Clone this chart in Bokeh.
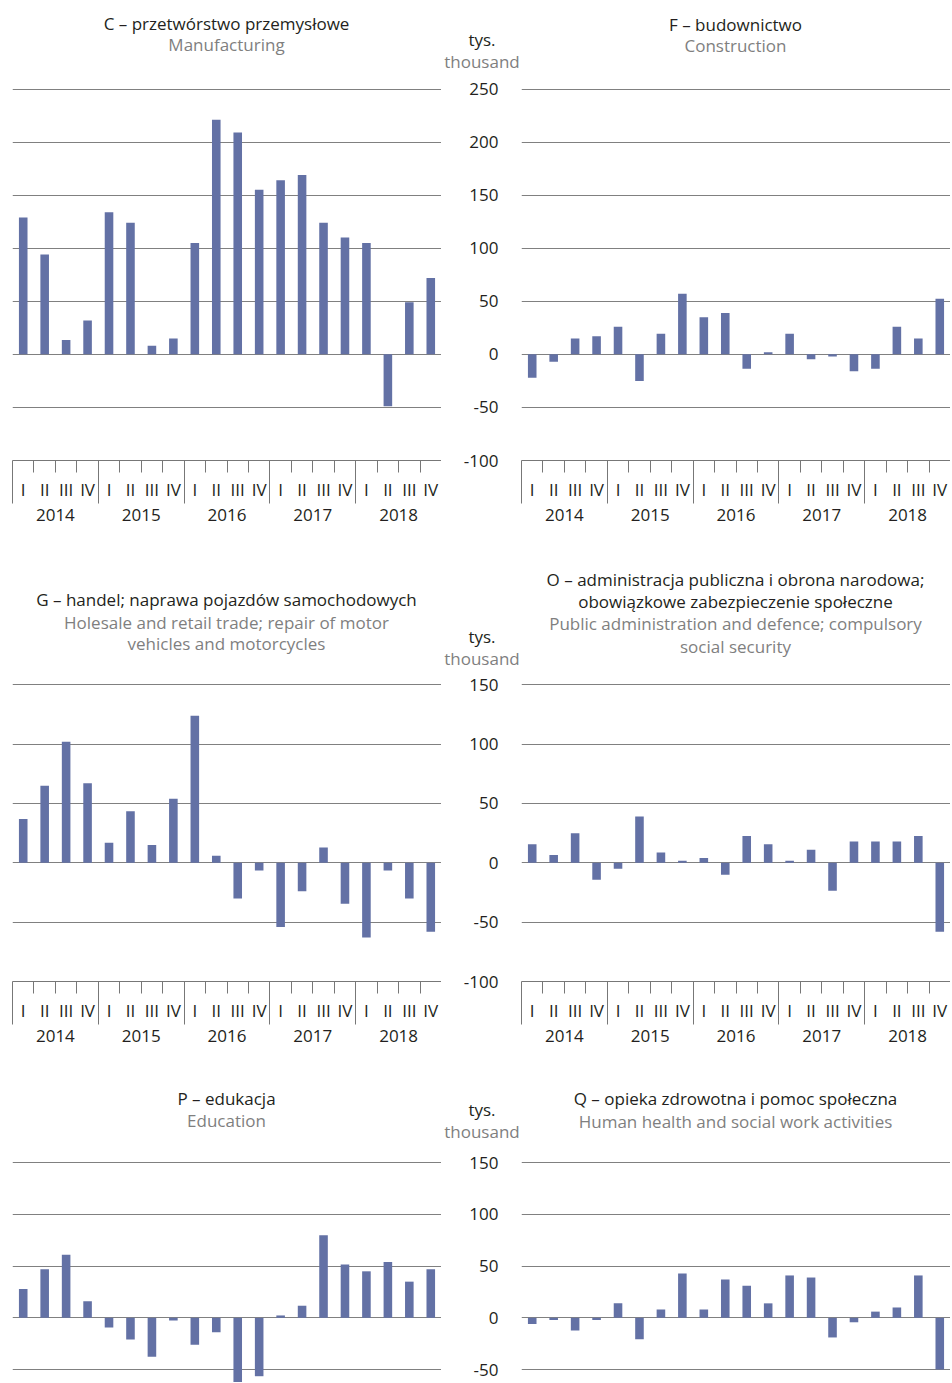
from bokeh.plotting import figure
from bokeh.models import Range1d, FixedTicker, LinearAxis, Grid, ColumnDataSource, Div
from bokeh.layouts import column, row
from bokeh.embed import file_html
from bokeh.resources import INLINE

# ---------------- data ----------------
years = ["2014", "2015", "2016", "2017", "2018"]
quarters = ["I", "II", "III", "IV"]

manufacturing = [129, 94, 13.5, 32, 134, 124, 8, 15, 105, 221,
                 209, 155, 164, 169, 124, 110, 105, -49, 49, 72]
construction = [-22, -7, 15, 17, 26, -25, 19.5, 57, 35, 39,
                -13.5, 2, 19.5, -4.5, -2, -16, -13.5, 26, 15, 52.5]
trade = [37, 65, 102, 67, 17, 43.5, 15, 54, 124, 6,
         -30, -6.5, -54, -24, 13, -34.5, -63, -6.5, -30, -58]
public_admin = [15.7, 6.5, 25, -14.3, -5, 39, 8.7, 1.7, 4, -10,
                22.5, 15.7, 1.7, 11, -23.6, 18, 18, 18, 22.5, -58]
education = [28, 47, 61, 16, -9.4, -21, -37.7, -2.6, -26, -14,
             -62, -56.5, 2.3, 11.7, 80, 51.6, 45, 54, 35, 47]
health = [-6, -2, -12.3, -2, 14, -20.7, 8, 43, 8, 37,
          31, 14, 41, 39, -19, -4.3, 6, 10, 41, -50]

ticks_row1 = [-100, -50, 0, 50, 100, 150, 200, 250]
ticks_row2 = [-100, -50, 0, 50, 100, 150]
ticks_row3 = [-50, 0, 50, 100, 150]

unit_pl = "tys."
unit_en = "thousand"

# ---------------- style ----------------
FONT = "Open Sans"
FS = "17px"
BAR = "#6371a5"
GRID = "#808080"
AXIS = "#777777"
DARK = "#231f20"
GREY = "#7f7f7f"

W_LEFT, W_RIGHT = 441, 509
n = len(years) * len(quarters)
xc = [i + 0.5 for i in range(n)]


def yrange(yticks, g_top, g_bot, frame_top, frame_bot):
    ppu = (g_bot - g_top) / (yticks[-1] - yticks[0])
    return (yticks[0] - (frame_bot - g_bot) / ppu,
            yticks[-1] + (g_top - frame_top) / ppu)


def panel(values, yticks, side, fig_h, b_top, b_bot, yr, x_axis=True):
    if side == "L":
        w, bl = W_LEFT, 12
    else:
        w, bl = W_RIGHT, 80
    p = figure(width=w, height=fig_h, x_range=Range1d(0, n),
               y_range=Range1d(*yr),
               output_backend="svg", toolbar_location=None,
               min_border_left=bl, min_border_right=0,
               min_border_top=b_top, min_border_bottom=b_bot,
               x_axis_location="below" if x_axis else None,
               y_axis_location="left" if side == "R" else None,
               outline_line_color=None, border_fill_color="white",
               background_fill_color="white")
    for g in p.grid:
        g.visible = False
    p.add_layout(Grid(dimension=1, ticker=FixedTicker(ticks=yticks),
                      grid_line_color=GRID, grid_line_width=1), "center")

    src = ColumnDataSource(dict(x=xc, top=values))
    p.vbar(x="x", top="top", bottom=0, width=0.4, source=src,
           fill_color=BAR, line_color=None)

    if side == "R":
        ay = p.yaxis[0]
        ay.ticker = FixedTicker(ticks=yticks)
        ay.major_label_overrides = {t: str(t) for t in yticks}
        ay.major_tick_out = 0
        ay.major_tick_in = 0
        ay.minor_tick_out = 0
        ay.minor_tick_in = 0
        ay.axis_line_color = None
        ay.major_label_standoff = 23
        ay.major_label_text_font = FONT
        ay.major_label_text_font_size = FS
        ay.major_label_text_color = DARK

    if x_axis:
        ax = p.xaxis[0]
        ax.ticker = FixedTicker(ticks=xc, minor_ticks=list(range(n + 1)))
        ax.major_label_overrides = {c: quarters[i % 4] for i, c in enumerate(xc)}
        ax.major_tick_out = 0
        ax.major_tick_in = 0
        ax.minor_tick_out = 12
        ax.minor_tick_in = 0
        ax.minor_tick_line_color = AXIS
        ax.axis_line_color = AXIS
        ax.major_label_standoff = 5
        ax.major_label_text_font = FONT
        ax.major_label_text_font_size = FS
        ax.major_label_text_color = DARK

        centers = [4 * k + 2 for k in range(len(years))]
        ax2 = LinearAxis(ticker=FixedTicker(ticks=centers,
                                            minor_ticks=[4 * k for k in range(len(years) + 1)]),
                         major_label_overrides={c: years[k] for k, c in enumerate(centers)},
                         major_tick_out=0, major_tick_in=0,
                         minor_tick_in=40, minor_tick_out=0,
                         minor_tick_line_color=AXIS, axis_line_color=None,
                         major_label_standoff=5,
                         major_label_text_font=FONT, major_label_text_font_size=FS,
                         major_label_text_color=DARK)
        p.add_layout(ax2, "below")
    return p


def header(top, height, items):
    total_w = W_LEFT + W_RIGHT
    parts = []
    for text, color, cx, cy in items:
        half = min(cx, total_w - cx)
        parts.append(
            f'<div style="position:absolute;left:{cx - half}px;width:{2 * half}px;'
            f'top:{cy - top - 9}px;height:18px;line-height:18px;text-align:center;'
            f'color:{color};white-space:nowrap">{text}</div>')
    html = (f'<div style="position:relative;width:{total_w}px;height:{height}px;'
            f'font-family:\'Open Sans\',sans-serif;font-size:{FS};overflow:visible">'
            + "".join(parts) + "</div>")
    return Div(text=html, width=total_w, height=height, margin=(0, 0, 0, 0))


CL, CR, CU = 226.5, 735.5, 482

# ---------- row 1 ----------
h1 = header(0, 72, [
    ("C – przetwórstwo przemysłowe", DARK, CL, 24),
    ("Manufacturing", GREY, CL, 45),
    ("F – budownictwo", DARK, CR, 25),
    ("Construction", GREY, CR, 46),
    (unit_pl, DARK, CU, 39.5),
    (unit_en, GREY, CU, 62),
])
yr1 = yrange(ticks_row1, 88.5, 460, 86, 460)
pC = panel(manufacturing, ticks_row1, "L", 473, 14, 85, yr1)
pF = panel(construction, ticks_row1, "R", 473, 14, 85, yr1)

# ---------- row 2 ----------
h2 = header(545, 123, [
    ("G – handel; naprawa pojazdów samochodowych", DARK, CL, 600),
    ("Holesale and retail trade; repair of motor", GREY, CL, 622.5),
    ("vehicles and motorcycles", GREY, CL, 644),
    ("O – administracja publiczna i obrona narodowa;", DARK, CR, 580),
    ("obowiązkowe zabezpieczenie społeczne", DARK, CR, 602),
    ("Public administration and defence; compulsory", GREY, CR, 624),
    ("social security", GREY, CR, 646.5),
    (unit_pl, DARK, CU, 636.5),
    (unit_en, GREY, CU, 659),
])
yr2 = yrange(ticks_row2, 684.3, 981, 682, 981)
pG = panel(trade, ticks_row2, "L", 394, 14, 81, yr2)
pO = panel(public_admin, ticks_row2, "R", 394, 14, 81, yr2)

# ---------- row 3 ----------
h3 = header(1062, 80, [
    ("P – edukacja", DARK, CL, 1099),
    ("Education", GREY, CL, 1120.5),
    ("Q – opieka zdrowotna i pomoc społeczna", DARK, CR, 1098.5),
    ("Human health and social work activities", GREY, CR, 1122),
    (unit_pl, DARK, CU, 1110),
    (unit_en, GREY, CU, 1132),
])
yr3 = yrange(ticks_row3, 1162.3, 1369, 1159, 1382)
pP = panel(education, ticks_row3, "L", 240, 17, 0, yr3, x_axis=False)
pQ = panel(health, ticks_row3, "R", 240, 17, 0, yr3, x_axis=False)

layout = column(h1, row(pC, pF), h2, row(pG, pO), h3, row(pP, pQ))
open("out.html", "w").write(file_html(layout, INLINE))
